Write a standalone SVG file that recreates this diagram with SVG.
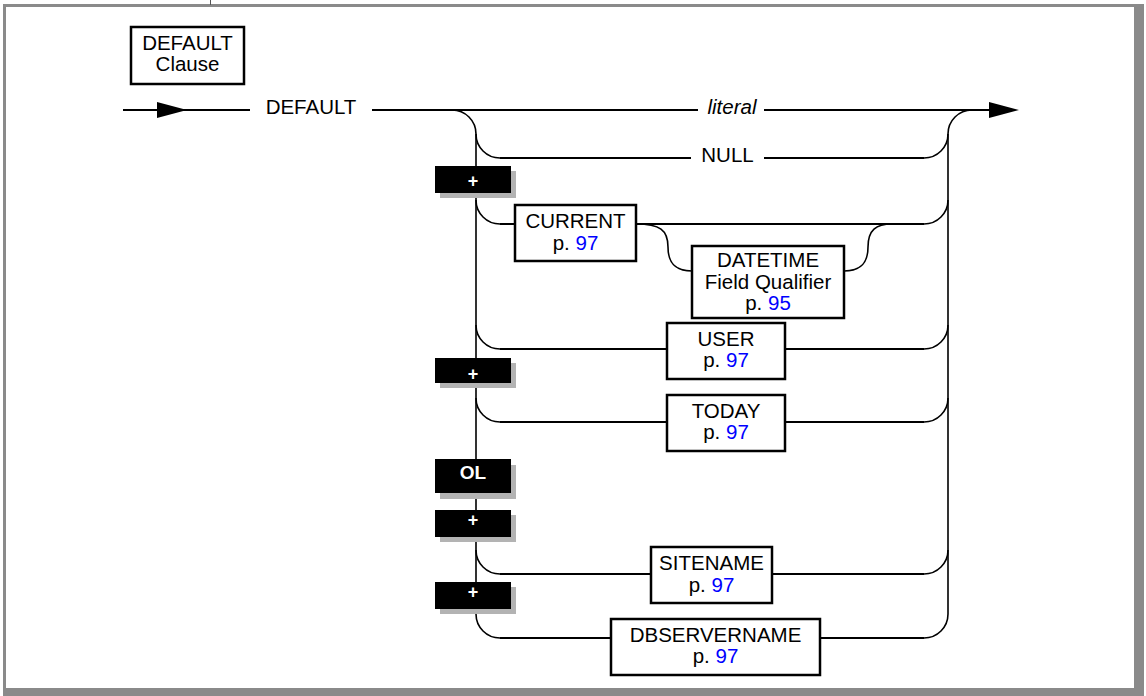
<svg xmlns="http://www.w3.org/2000/svg" width="1146" height="696" viewBox="0 0 1146 696">
<style>
.ln{fill:none;stroke:#000;stroke-width:2}
.vl{fill:none;stroke:#000;stroke-width:1.6}
.box{fill:#fff;stroke:#000;stroke-width:2.5}
.t{font-family:"Liberation Sans",Arial,sans-serif;font-size:20.5px;text-anchor:middle;fill:#000}
.it{font-style:italic}
.pg{fill:#0000ff}
.tag{fill:#000}
.sh{fill:#b3b3b3}
.tt{font-family:"Liberation Sans",Arial,sans-serif;font-weight:bold;text-anchor:middle;fill:#fff}
.fr{fill:#8a8a8a}
</style>
<rect width="1146" height="696" fill="#fff"/>
<g id="frame">
<rect class="fr" x="3" y="4" width="1141" height="3"/>
<rect class="fr" x="3" y="4" width="3" height="692"/>
<rect class="fr" x="1134" y="4" width="10" height="692"/>
<rect class="fr" x="3" y="688" width="1141" height="8"/>
<line x1="210.5" y1="0" x2="210.5" y2="5" stroke="#555" stroke-width="1"/>
</g>
<g id="title">
<rect class="box" x="131" y="27" width="113" height="57"/>
<text class="t" x="187.5" y="50">DEFAULT</text>
<text class="t" x="187.5" y="71">Clause</text>
</g>
<g id="connectors">
<path class="ln" d="M123,110 H250"/>
<polygon points="157,102 187,110 157,118" fill="#000"/>
<path class="ln" d="M372,110 H452 M452,110 H698 M764,110 H989"/>
<polygon points="989,102 1019,110 989,118" fill="#000"/>
<path class="vl" d="M452,110 A24,24 0 0 1 476,134 V614 A24,24 0 0 0 500,638"/>
<path class="ln" d="M500,638 H611 M820,638 H924"/>
<path class="vl" d="M972,110 A24,24 0 0 0 948,134 V614 A24,24 0 0 1 924,638"/>
<path class="vl" d="M476,134 A24,24 0 0 0 500,158 M924,158 A24,24 0 0 0 948,134"/>
<path class="ln" d="M500,158 H691 M764,158 H924"/>
<path class="vl" d="M476,200 A24,24 0 0 0 500,224 M924,224 A24,24 0 0 0 948,200"/>
<path class="ln" d="M500,224 H515 M636,224 H924"/>
<path class="vl" d="M636,224 C660,224 668,230 668,247 C668,264 676,271 692,271"/>
<path class="vl" d="M844,271 C860,271 868,264 868,247 C868,230 876,224 892,224"/>
<path class="vl" d="M476,325 A24,24 0 0 0 500,349 M924,349 A24,24 0 0 0 948,325"/>
<path class="ln" d="M500,349 H667 M785,349 H924"/>
<path class="vl" d="M476,398 A24,24 0 0 0 500,422 M924,422 A24,24 0 0 0 948,398"/>
<path class="ln" d="M500,422 H667 M785,422 H924"/>
<path class="vl" d="M476,550 A24,24 0 0 0 500,574 M924,574 A24,24 0 0 0 948,550"/>
<path class="ln" d="M500,574 H651 M772,574 H924"/>
</g>
<g id="kw-default"><text class="t" x="311" y="114">DEFAULT</text></g>
<g id="kw-literal"><text class="t it" x="732" y="114">literal</text></g>
<g id="kw-null"><text class="t" x="727.5" y="162">NULL</text></g>
<g id="current">
<rect class="box" x="515" y="205" width="121" height="56"/>
<text class="t" x="575.5" y="228">CURRENT</text>
<text class="t" x="575.5" y="250">p. <tspan class="pg">97</tspan></text>
</g>
<g id="datetime">
<rect class="box" x="692" y="246" width="152" height="72"/>
<text class="t" x="768" y="267">DATETIME</text>
<text class="t" x="768" y="289">Field Qualifier</text>
<text class="t" x="768" y="310">p. <tspan class="pg">95</tspan></text>
</g>
<g id="user">
<rect class="box" x="667" y="323" width="118" height="56"/>
<text class="t" x="726" y="346">USER</text>
<text class="t" x="726" y="367">p. <tspan class="pg">97</tspan></text>
</g>
<g id="today">
<rect class="box" x="667" y="395" width="118" height="56"/>
<text class="t" x="726" y="418">TODAY</text>
<text class="t" x="726" y="439">p. <tspan class="pg">97</tspan></text>
</g>
<g id="sitename">
<rect class="box" x="651" y="547" width="121" height="56"/>
<text class="t" x="711.5" y="570">SITENAME</text>
<text class="t" x="711.5" y="592">p. <tspan class="pg">97</tspan></text>
</g>
<g id="dbservername">
<rect class="box" x="611" y="619" width="209" height="56"/>
<text class="t" x="715.5" y="642">DBSERVERNAME</text>
<text class="t" x="715.5" y="663">p. <tspan class="pg">97</tspan></text>
</g>
<g id="tag-plus-1">
<rect class="sh" x="440" y="171" width="76" height="27"/>
<rect class="tag" x="435" y="166" width="76" height="27"/>
<text class="tt" x="473" y="187" font-size="18">+</text>
</g>
<g id="tag-plus-2">
<rect class="sh" x="440" y="363" width="76" height="25"/>
<rect class="tag" x="435" y="358" width="76" height="25"/>
<text class="tt" x="473" y="380" font-size="18">+</text>
</g>
<g id="tag-ol">
<rect class="sh" x="440" y="465" width="76" height="34"/>
<rect class="tag" x="435" y="459" width="76" height="34"/>
<text class="tt" x="473" y="479" font-size="19">OL</text>
</g>
<g id="tag-plus-3">
<rect class="sh" x="440" y="515" width="76" height="27"/>
<rect class="tag" x="435" y="510" width="76" height="27"/>
<text class="tt" x="473" y="526" font-size="18">+</text>
</g>
<g id="tag-plus-4">
<rect class="sh" x="440" y="587" width="76" height="27"/>
<rect class="tag" x="435" y="582" width="76" height="27"/>
<text class="tt" x="473" y="598" font-size="18">+</text>
</g>
</svg>
